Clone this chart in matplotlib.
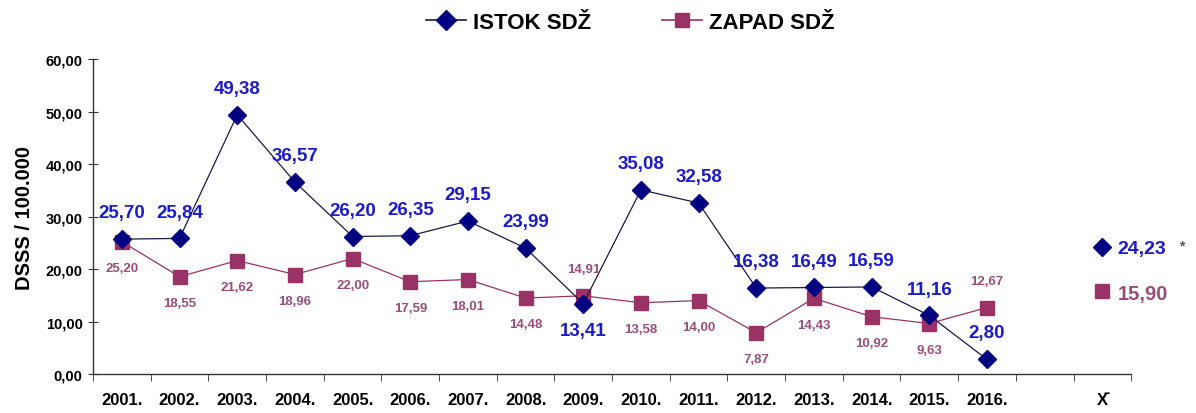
import matplotlib
matplotlib.use("Agg")
import matplotlib.pyplot as plt
from matplotlib.lines import Line2D

plt.rcParams['font.family'] = ['Liberation Sans', 'DejaVu Sans']

years = ["2001.", "2002.", "2003.", "2004.", "2005.", "2006.", "2007.", "2008.",
         "2009.", "2010.", "2011.", "2012.", "2013.", "2014.", "2015.", "2016."]
istok = [25.70, 25.84, 49.38, 36.57, 26.20, 26.35, 29.15, 23.99,
         13.41, 35.08, 32.58, 16.38, 16.49, 16.59, 11.16, 2.80]
zapad = [25.20, 18.55, 21.62, 18.96, 22.00, 17.59, 18.01, 14.48,
         14.91, 13.58, 14.00, 7.87, 14.43, 10.92, 9.63, 12.67]
istok_mean = 24.23
zapad_mean = 15.90
mean_label = "X̄"

# label placement: +1 above the marker, -1 below
istok_side = [1, 1, 1, 1, 1, 1, 1, 1, -1, 1, 1, 1, 1, 1, 1, 1]
zapad_side = [-1, -1, -1, -1, -1, -1, -1, -1, 1, -1, -1, -1, -1, -1, -1, 1]

BLUE_MARK = "#000080"
BLUE_TEXT = "#1c1cc8"
MAROON = "#993366"
MAROON_TEXT = "#9a4d78"
LINE_DARK = "#1a1a40"

def fmt(v):
    return f"{v:.2f}".replace(".", ",")

fig = plt.figure(figsize=(11.96, 4.14), dpi=100)
ax = fig.add_axes([0.0778, 0.094, 0.868, 0.761])

n = len(years)
x = list(range(n))
xmean = n + 1

ax.plot(x, istok, color=LINE_DARK, lw=0.9, marker="D", ms=9.5,
        mfc=BLUE_MARK, mec=BLUE_MARK, zorder=3)
ax.plot(x, zapad, color=MAROON, lw=0.9, marker="s", ms=9.5,
        mfc=MAROON, mec=MAROON, zorder=2)
ax.plot([xmean], [istok_mean], ls="none", marker="D", ms=9.5,
        mfc=BLUE_MARK, mec=BLUE_MARK, zorder=3)
ax.plot([xmean], [zapad_mean], ls="none", marker="s", ms=9.5,
        mfc=MAROON, mec=MAROON, zorder=3)

for xi, v, s in zip(x, istok, istok_side):
    ax.annotate(fmt(v), (xi, v), xytext=(0, 19 * s), textcoords="offset points",
                ha="center", va="center", fontsize=13.5, fontweight="bold",
                color=BLUE_TEXT, zorder=5)
for xi, v, s in zip(x, zapad, zapad_side):
    ax.annotate(fmt(v), (xi, v), xytext=(0, 19 * s), textcoords="offset points",
                ha="center", va="center", fontsize=9.5, fontweight="bold",
                color=MAROON_TEXT, zorder=5)

ax.annotate(fmt(istok_mean), (xmean, istok_mean), xytext=(11, -1),
            textcoords="offset points", ha="left", va="center",
            fontsize=14, fontweight="bold", color=BLUE_TEXT)
ax.annotate("*", (xmean, istok_mean), xytext=(55, 1),
            textcoords="offset points", ha="left", va="center",
            fontsize=10, fontweight="bold", color="#555555")
ax.annotate(fmt(zapad_mean), (xmean, zapad_mean), xytext=(11, -2),
            textcoords="offset points", ha="left", va="center",
            fontsize=14.5, fontweight="bold", color=MAROON_TEXT)

ax.set_xlim(-0.5, n + 1.5)
ax.set_ylim(0, 60)
ax.set_xticks(list(x) + [xmean])
ax.set_xticklabels(years + [mean_label], fontsize=12, fontweight="bold")
ax.set_xticks([i - 0.5 for i in range(n + 3)], minor=True)
ax.tick_params(axis="x", which="major", length=0, pad=13)
ax.tick_params(axis="x", which="minor", length=5, direction="out", color="#333333")
ax.set_yticks(range(0, 61, 10))
ax.set_yticklabels([fmt(v) for v in range(0, 61, 10)], fontsize=10.5, fontweight="bold")
ax.tick_params(axis="y", length=7, direction="inout", color="#333333", pad=4)
ax.set_ylabel("DSSS / 100.000", fontsize=14.5, fontweight="bold", labelpad=8)

for side in ("top", "right"):
    ax.spines[side].set_visible(False)
for side in ("left", "bottom"):
    ax.spines[side].set_color("#333333")
    ax.spines[side].set_linewidth(1.0)

handles = [
    Line2D([], [], color=LINE_DARK, lw=1.2, marker="D", ms=10, mfc=BLUE_MARK, mec=BLUE_MARK),
    Line2D([], [], color=MAROON, lw=1.2, marker="s", ms=10, mfc=MAROON, mec=MAROON),
]
fig.legend(handles, ["ISTOK SDŽ", "ZAPAD SDŽ"], loc="center", bbox_to_anchor=(0.527, 0.943),
           ncol=2, frameon=False, prop={"weight": "bold", "size": 16},
           handlelength=1.8, handletextpad=0.3, columnspacing=3.2)

fig.savefig("out.png", dpi=100)
